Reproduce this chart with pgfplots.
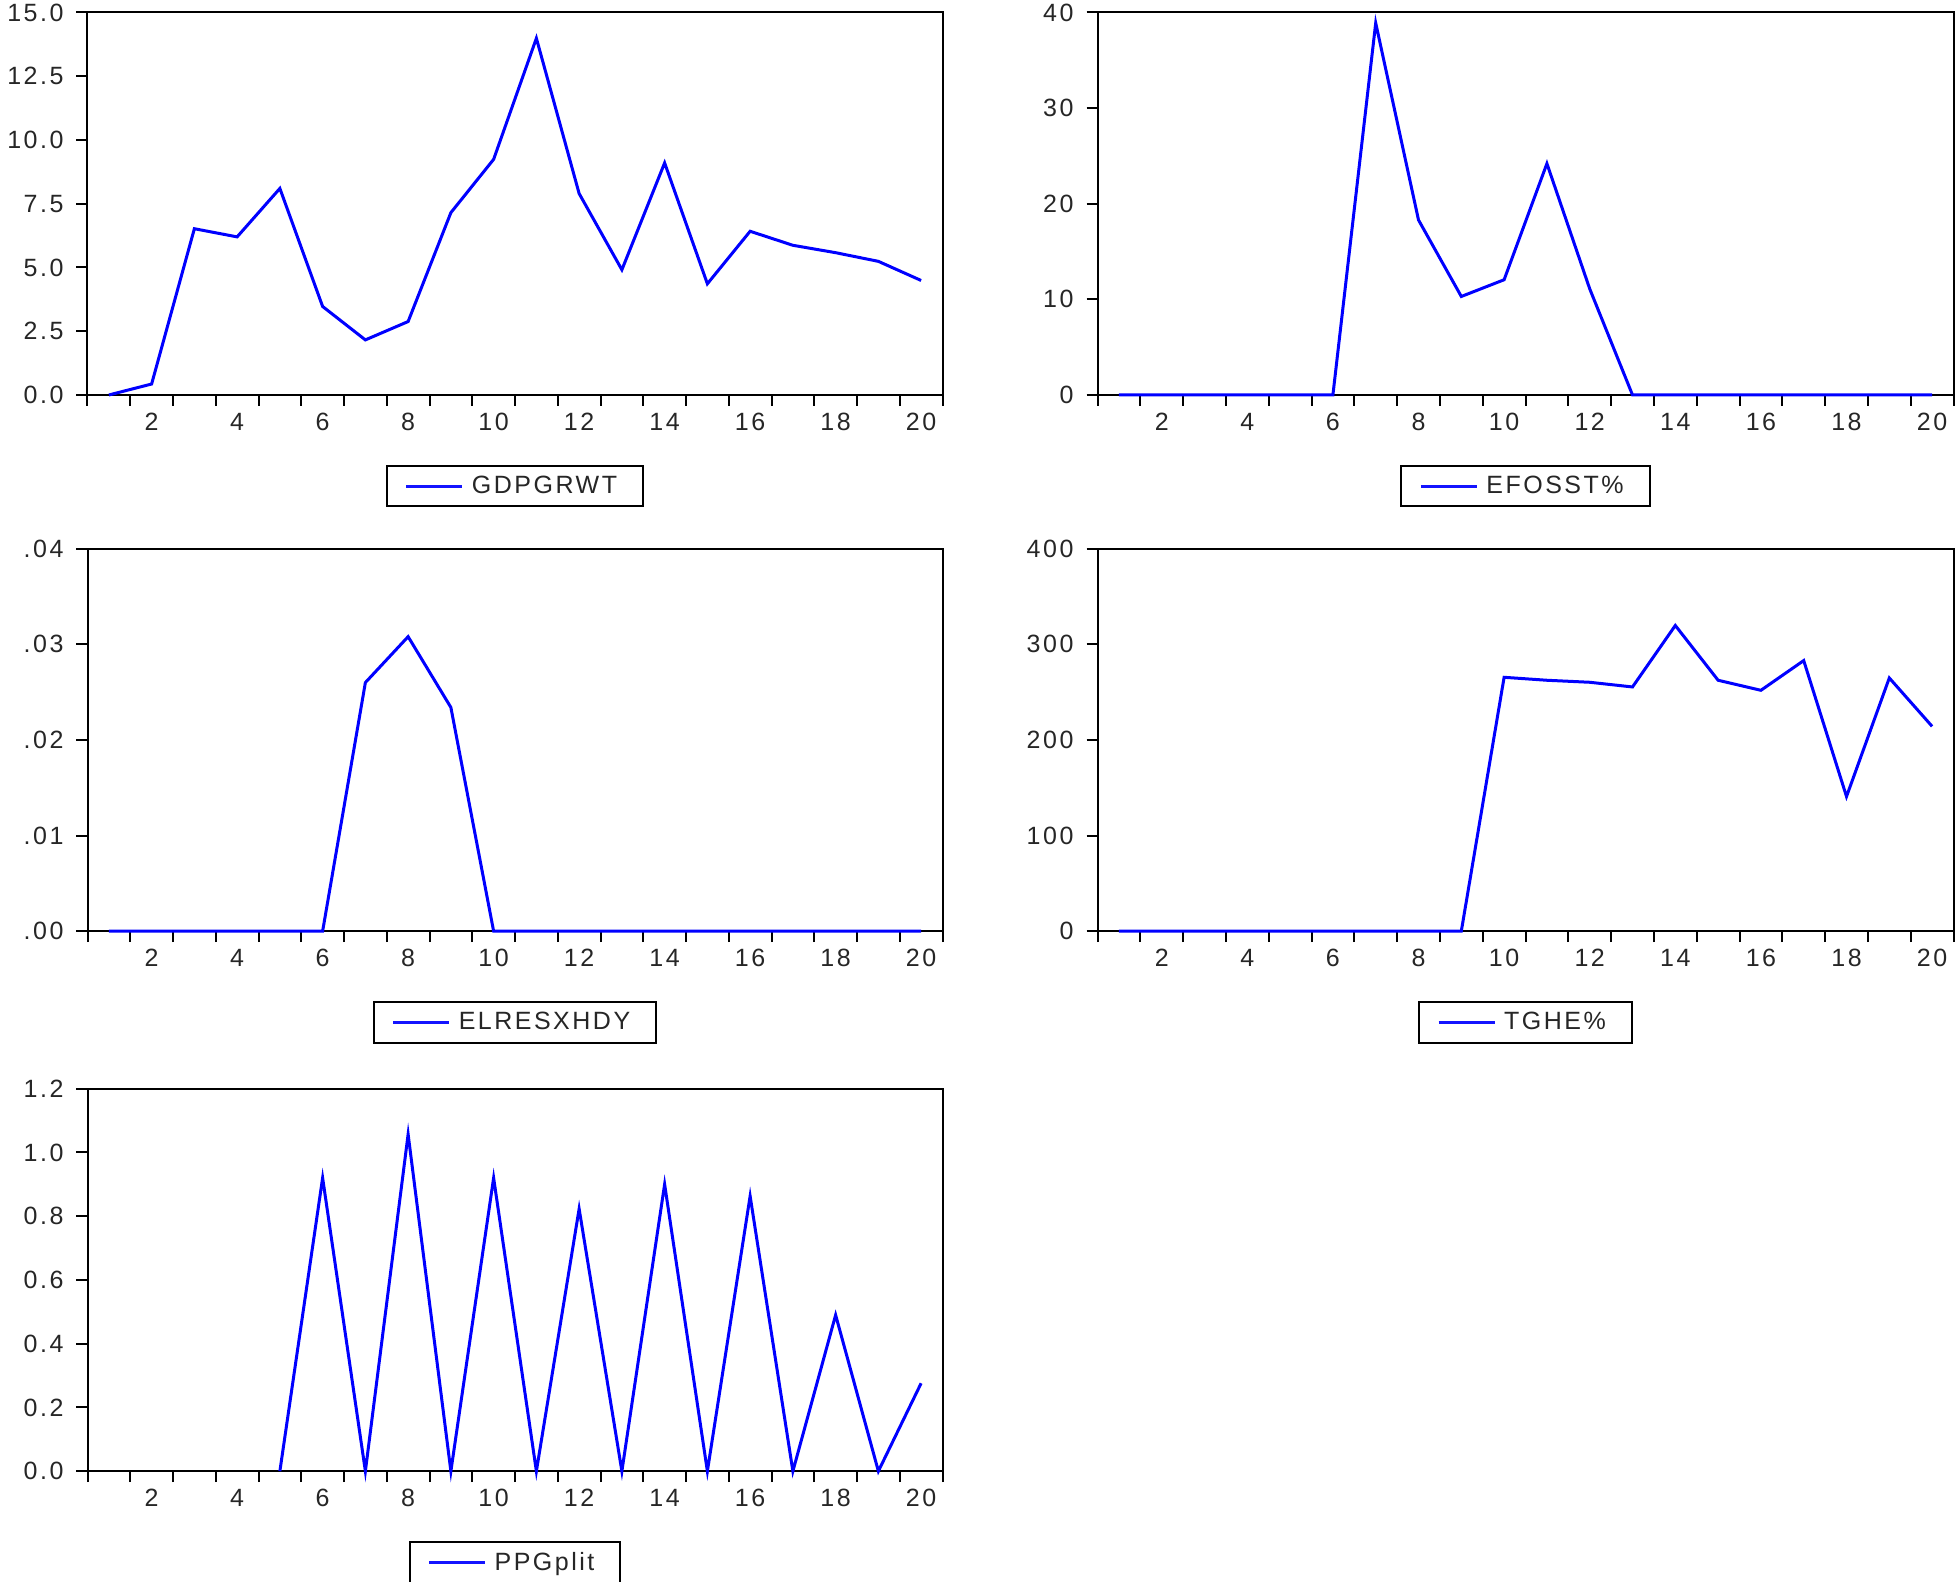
\documentclass[border=0pt]{standalone}
\usepackage{fontspec}
\setmainfont{Liberation Sans}[LetterSpace=10]
\usepackage{pgfplots}
\pgfplotsset{compat=1.18}
\definecolor{evblue}{RGB}{20,20,255}
\pgfplotsset{
  evstyle/.style={
    clip=false,
    scale only axis, width=427.5pt, height=191.25pt,
    xmin=0.5, xmax=20.5,
    xtick={2,4,...,20},
    xticklabels={2,4,6,8,10,12,14,16,18,20},
    minor xtick={0.5,1.5,...,20.5},
    tick align=outside, xtick pos=lower, ytick pos=left,
    major x tick style={draw=none},
    major tick length=5.5pt, minor tick length=5.5pt,
    tick style={black, line width=1pt},
    axis line style={draw=none},
    axis background/.style={draw=black, line width=1pt},
    scaled y ticks=false,
    no markers,
    /pgf/number format/assume math mode=true,
    tick label style={font=\fontsize{12.5}{14}\selectfont, text=black!85},
    yticklabel style={xshift=-3pt},
    xticklabel style={yshift=0pt},
    legend style={at={(0.5,-0.183)}, anchor=north, draw=black, line width=1pt,
      font=\fontsize{12.5}{14}\selectfont, text=black!85, inner xsep=9pt, inner ysep=3pt,
      nodes={inner xsep=4pt}},
    legend image code/.code={\draw[evblue, line width=1.5pt] (0pt,0pt) -- (28pt,0pt);},
    every axis plot/.append style={evblue, line width=1.5pt},
  }
}
\begin{document}
\begin{tikzpicture}
\useasboundingbox (0,0) rectangle (980pt,791pt);
% Panel 1
\begin{axis}[evstyle, at={(43.75pt,593.5pt)}, anchor=south west,
  ymin=0, ymax=15, ytick={0,2.5,...,15},
  yticklabels={0.0,2.5,5.0,7.5,10.0,12.5,15.0}]
\addplot coordinates {(1,0.0)(2,0.43)(3,6.52)(4,6.2)(5,8.1)(6,3.47)(7,2.16)(8,2.88)(9,7.15)(10,9.24)(11,13.99)(12,7.9)(13,4.91)(14,9.1)(15,4.36)(16,6.42)(17,5.87)(18,5.58)(19,5.24)(20,4.49)};
\addlegendentry{GDPGRWT}
\end{axis}
% Panel 2
\begin{axis}[evstyle, width=428pt, at={(548.75pt,593.5pt)}, anchor=south west,
  ymin=0, ymax=40, ytick={0,10,...,40},
  yticklabels={0,10,20,30,40}]
\addplot coordinates {(1,0)(2,0)(3,0)(4,0)(5,0)(6,0)(7,38.9)(8,18.3)(9,10.3)(10,12.05)(11,24.2)(12,11.1)(13,0)(14,0)(15,0)(16,0)(17,0)(18,0)(19,0)(20,0)};
\addlegendentry{EFOSST\%}
\end{axis}
% Panel 3
\begin{axis}[evstyle, at={(43.75pt,325.4pt)}, anchor=south west,
  ymin=0, ymax=0.04, ytick={0,0.01,0.02,0.03,0.04},
  yticklabels={.00,.01,.02,.03,.04}]
\addplot coordinates {(1,0)(2,0)(3,0)(4,0)(5,0)(6,0)(7,0.0260)(8,0.0308)(9,0.0234)(10,0)(11,0)(12,0)(13,0)(14,0)(15,0)(16,0)(17,0)(18,0)(19,0)(20,0)};
\addlegendentry{ELRESXHDY}
\end{axis}
% Panel 4
\begin{axis}[evstyle, width=428pt, at={(548.75pt,325.4pt)}, anchor=south west,
  ymin=0, ymax=400, ytick={0,100,...,400},
  yticklabels={0,100,200,300,400}]
\addplot coordinates {(1,0)(2,0)(3,0)(4,0)(5,0)(6,0)(7,0)(8,0)(9,0)(10,265.5)(11,262.4)(12,260.3)(13,255.4)(14,319.7)(15,262.4)(16,251.9)(17,283)(18,140.8)(19,264.8)(20,214.2)};
\addlegendentry{TGHE\%}
\end{axis}
% Panel 5
\begin{axis}[evstyle, at={(43.75pt,55.4pt)}, anchor=south west,
  ymin=0, ymax=1.2, ytick={0,0.2,...,1.2},
  yticklabels={0.0,0.2,0.4,0.6,0.8,1.0,1.2}]
\addplot coordinates {(5,0)(6,0.92)(7,0)(8,1.057)(9,0)(10,0.92)(11,0)(12,0.823)(13,0)(14,0.90)(15,0)(16,0.863)(17,0)(18,0.49)(19,0)(20,0.276)};
\addlegendentry{PPGplit}
\end{axis}
\end{tikzpicture}
\end{document}
